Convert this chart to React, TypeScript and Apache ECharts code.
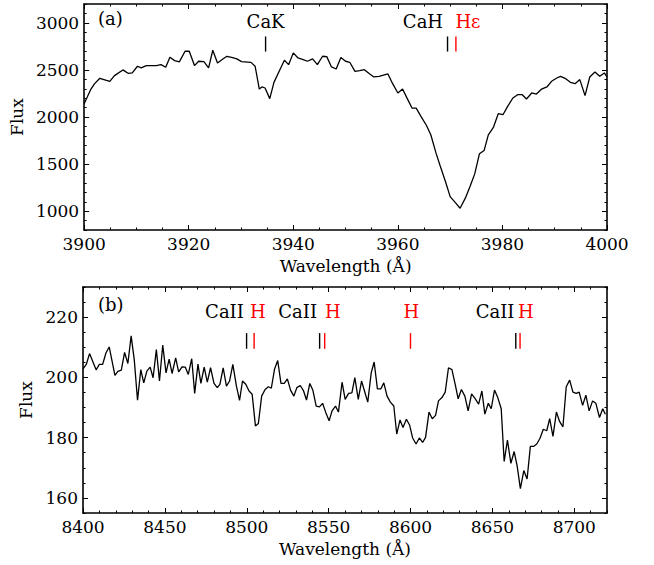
import React, { useEffect, useRef } from 'react';
import * as echarts from 'echarts';

// ---------- Panel (a) : Ca II K / H region ----------
const waveA = [
  3900.0, 3901.3, 3902.0, 3903.0, 3904.9, 3905.8, 3907.4, 3908.4, 3909.2, 3910.2,
  3910.9, 3911.9, 3913.8, 3914.7, 3915.6, 3916.4, 3917.3, 3918.2, 3919.3, 3920.1,
  3921.1, 3921.9, 3922.9, 3923.8, 3924.6, 3925.5, 3926.4, 3927.3, 3928.2, 3929.2,
  3930.1, 3931.9, 3932.7, 3933.5, 3934.0, 3934.6, 3935.5, 3936.3, 3937.3, 3938.3,
  3939.1, 3940.0, 3940.9, 3941.9, 3942.7, 3943.7, 3944.6, 3945.6, 3946.4, 3947.3,
  3948.2, 3949.1, 3950.0, 3950.8, 3951.8, 3952.7, 3953.6, 3954.5, 3955.4, 3956.4,
  3958.1, 3959.0, 3960.0, 3960.9, 3961.8, 3962.7, 3963.5, 3964.5, 3965.5, 3966.3,
  3967.3, 3968.1, 3969.1, 3970.0, 3971.0, 3971.9, 3972.9, 3973.8, 3974.7, 3975.6,
  3976.5, 3977.3, 3978.3, 3979.2, 3980.1, 3981.0, 3982.0, 3982.9, 3983.8, 3984.6,
  3985.6, 3986.5, 3987.5, 3988.5, 3989.4, 3990.4, 3991.1, 3992.1, 3993.0, 3993.9,
  3994.8, 3995.8, 3996.7, 3997.7, 3998.6, 3999.5, 4000.0,
];
const fluxA = [
  2141, 2297, 2354, 2411, 2379, 2439, 2500, 2464, 2468, 2539,
  2521, 2546, 2546, 2556, 2528, 2634, 2599, 2585, 2698, 2698,
  2546, 2592, 2588, 2521, 2709, 2574, 2610, 2645, 2634, 2617,
  2588, 2580, 2539, 2297, 2319, 2308, 2195, 2368, 2485, 2602,
  2556, 2681, 2627, 2610, 2592, 2617, 2556, 2645, 2641, 2532,
  2510, 2631, 2592, 2581, 2485, 2493, 2503, 2461, 2425, 2432,
  2457, 2354, 2255, 2297, 2195, 2095, 2095, 1999, 1907, 1811,
  1616, 1480, 1315, 1155, 1091, 1031, 1138, 1262, 1396, 1609,
  1645, 1811, 1893, 2035, 2024, 2113, 2202, 2237, 2237, 2191,
  2255, 2244, 2297, 2319, 2379, 2414, 2432, 2407, 2368, 2354,
  2397, 2227, 2425, 2478, 2432, 2468, 2425,
];

// ---------- Panel (b) : Ca II triplet region ----------
const waveB = [
  8400.0, 8402.0, 8404.0, 8408.0, 8410.0, 8412.0, 8414.0, 8416.0, 8419.5, 8421.3,
  8423.4, 8425.4, 8427.4, 8429.4, 8431.3, 8433.3, 8435.3, 8437.1, 8439.0, 8441.0,
  8442.8, 8444.8, 8446.7, 8448.7, 8450.7, 8452.6, 8454.4, 8456.6, 8458.4, 8460.5,
  8462.5, 8464.3, 8466.4, 8468.2, 8470.2, 8472.0, 8474.0, 8475.9, 8477.9, 8480.0,
  8482.0, 8483.6, 8485.6, 8487.6, 8489.5, 8491.5, 8493.7, 8495.6, 8497.4, 8499.4,
  8501.4, 8503.3, 8505.3, 8507.1, 8509.1, 8511.2, 8513.2, 8515.0, 8517.0, 8518.9,
  8520.9, 8522.9, 8524.8, 8526.8, 8528.8, 8530.6, 8532.7, 8534.7, 8536.5, 8538.5,
  8540.4, 8542.4, 8544.4, 8546.3, 8548.3, 8550.3, 8552.1, 8554.2, 8556.0, 8558.2,
  8560.1, 8562.2, 8564.2, 8566.0, 8568.1, 8570.1, 8571.9, 8573.9, 8576.0, 8577.8,
  8579.8, 8581.9, 8583.7, 8585.7, 8587.7, 8589.8, 8591.6, 8593.6, 8595.4, 8597.5,
  8599.5, 8601.3, 8603.4, 8605.4, 8607.4, 8609.2, 8611.3, 8613.3, 8615.3, 8617.1,
  8619.2, 8621.2, 8623.2, 8625.3, 8627.3, 8629.1, 8631.1, 8633.2, 8635.2, 8637.3,
  8639.6, 8641.6, 8643.6, 8645.4, 8647.5, 8649.3, 8651.3, 8653.3, 8655.4, 8657.2,
  8659.2, 8661.3, 8663.3, 8665.1, 8667.1, 8669.2, 8671.2, 8673.2, 8675.1, 8677.1,
  8679.1, 8681.1, 8683.2, 8685.0, 8687.0, 8689.1, 8691.1, 8693.1, 8695.1, 8697.2,
  8699.2, 8701.2, 8703.0, 8705.1, 8707.1, 8709.1, 8711.2, 8713.2, 8715.4, 8717.4,
  8719.0,
];
const fluxB = [
  202.8, 204.3, 207.9, 202.5, 204.3, 204.3, 208.1, 210.1, 200.7, 202.0,
  202.4, 208.3, 204.6, 213.8, 205.9, 192.4, 202.6, 198.2, 202.1, 203.4,
  199.9, 209.2, 198.8, 210.7, 201.5, 206.1, 201.3, 206.5, 201.8, 203.5,
  203.4, 201.0, 206.2, 194.7, 204.4, 198.0, 203.4, 198.4, 203.2, 198.0,
  196.6, 197.7, 203.2, 197.1, 198.8, 204.3, 197.1, 192.4, 198.8, 197.7,
  195.5, 194.4, 183.9, 184.7, 193.8, 196.0, 196.9, 196.4, 202.8, 205.6,
  198.0, 198.0, 199.5, 195.7, 193.8, 196.6, 197.3, 195.5, 192.5, 198.0,
  195.7, 190.5, 190.2, 191.4, 188.3, 185.6, 188.9, 190.5, 188.5, 198.4,
  192.7, 194.7, 194.9, 199.9, 192.7, 198.8, 195.5, 191.8, 201.5, 205.1,
  196.2, 196.2, 198.2, 193.8, 191.8, 190.5, 181.2, 185.9, 183.4, 186.1,
  184.1, 179.9, 177.9, 179.9, 178.4, 180.1, 188.5, 186.3, 187.4, 192.2,
  193.3, 195.1, 203.2, 202.6, 197.7, 192.9, 196.0, 193.8, 188.9, 194.5,
  192.9, 191.1, 195.5, 187.8, 191.4, 189.6, 195.8, 193.3, 189.6, 172.1,
  179.2, 171.5, 175.4, 170.7, 163.1, 169.1, 166.3, 177.1, 177.1, 177.9,
  179.8, 182.8, 182.3, 186.3, 180.4, 188.5, 185.3, 183.6, 196.9, 199.1,
  195.1, 194.7, 195.1, 190.7, 194.1, 188.9, 192.2, 191.4, 186.7, 189.6,
  187.8,
];

// ---------- Axes ----------
const xRangeA = [3900, 4000];
const yRangeA = [800, 3200];
const xTicksA = [3900, 3920, 3940, 3960, 3980, 4000];
const yTicksA = [1000, 1500, 2000, 2500, 3000];
const xMinorStepA = 5;
const yMinorStepA = 100;

const xRangeB = [8400, 8720];
const yRangeB = [155, 230];
const xTicksB = [8400, 8450, 8500, 8550, 8600, 8650, 8700];
const yTicksB = [160, 180, 200, 220];
const xMinorStepB = 10;
const yMinorStepB = 5;

// ---------- Line identifications ----------
const caMarksA = [3934.7, 3969.5];
const hMarksA = [3971.1];
const markSpanA = [2695, 2855];
const caTextA = ['CaK', 'CaH'];
const caTextPosA = [3934.7, 3964.8];
const hTextA = ['Hε'];
const hTextPosA = [3973.4];
const textLevelA = 3014;

const caMarksB = [8499.9, 8544.5, 8664.3];
const hMarksB = [8504.5, 8547.6, 8600.0, 8666.9];
const markSpanB = [209.5, 214.7];
const caTextB = ['CaII', 'CaII', 'CaII'];
const caTextPosB = [8486.4, 8531.1, 8651.6];
const hTextB = ['H', 'H', 'H', 'H'];
const hTextPosB = [8506.8, 8552.6, 8600.5, 8670.4];
const textLevelB = 221.9;

const FONT = 'DejaVu Serif';
const FS = 17;
const AFS = 18;

function steps(min: number, max: number, step: number) {
  const out: number[] = [];
  for (let v = Math.ceil(min / step) * step; v <= max + 1e-9; v += step) out.push(+v.toFixed(6));
  return out;
}

function axis(o: any) {
  return {
    type: 'value',
    gridIndex: o.grid,
    position: o.pos,
    min: o.range[0],
    max: o.range[1],
    splitLine: { show: false },
    axisLine: { show: !!o.line, onZero: false, lineStyle: { color: '#000', width: 1.6 } },
    axisTick: {
      show: true,
      inside: true,
      length: o.len,
      customValues: o.ticks,
      lineStyle: { color: '#000', width: 1 },
    },
    axisLabel: o.labels
      ? {
          show: true,
          customValues: o.labels,
          margin: o.margin,
          color: '#000',
          fontFamily: FONT,
          fontSize: FS,
          formatter: (v: number) => String(v),
        }
      : { show: false },
    name: o.name,
    nameLocation: 'middle',
    nameGap: o.nameGap,
    nameTextStyle: { color: '#000', fontFamily: FONT, fontSize: FS },
  };
}

function panelAxes(grid: number, xr: number[], yr: number[], xt: number[], yt: number[], xs: number, ys: number) {
  const xm = steps(xr[0], xr[1], xs);
  const ym = steps(yr[0], yr[1], ys);
  const xAxes = [
    axis({ grid, pos: 'bottom', range: xr, ticks: xt, len: 5, line: true, labels: xt, margin: 5, name: 'Wavelength (Å)', nameGap: 27 }),
    axis({ grid, pos: 'bottom', range: xr, ticks: xm, len: 2.5 }),
    axis({ grid, pos: 'top', range: xr, ticks: xt, len: 5, line: true }),
    axis({ grid, pos: 'top', range: xr, ticks: xm, len: 2.5 }),
  ];
  const yAxes = [
    axis({ grid, pos: 'left', range: yr, ticks: yt, len: 5, line: true, labels: yt, margin: 5, name: 'Flux', nameGap: 48 }),
    axis({ grid, pos: 'left', range: yr, ticks: ym, len: 2.5 }),
    axis({ grid, pos: 'right', range: yr, ticks: yt, len: 5, line: true }),
    axis({ grid, pos: 'right', range: yr, ticks: ym, len: 2.5 }),
  ];
  return { xAxes, yAxes };
}

function markSeries(xi: number, yi: number, xs: number[], span: number[], color: string) {
  return {
    type: 'custom',
    xAxisIndex: xi,
    yAxisIndex: yi,
    silent: true,
    clip: false,
    data: xs.map((x) => [x, span[0], span[1]]),
    renderItem: (_p: any, api: any) => {
      const a = api.coord([api.value(0), api.value(1)]);
      const b = api.coord([api.value(0), api.value(2)]);
      return {
        type: 'line',
        shape: { x1: a[0], y1: a[1], x2: b[0], y2: b[1] },
        style: { stroke: color, lineWidth: 1.4 },
      };
    },
  };
}

function textSeries(xi: number, yi: number, xs: number[], texts: string[], level: number, color: string) {
  return {
    type: 'custom',
    xAxisIndex: xi,
    yAxisIndex: yi,
    silent: true,
    clip: false,
    data: xs.map((x) => [x, level]),
    renderItem: (p: any, api: any) => {
      const c = api.coord([api.value(0), api.value(1)]);
      return {
        type: 'text',
        x: c[0],
        y: c[1],
        style: {
          text: texts[p.dataIndex],
          fill: color,
          fontFamily: FONT,
          fontSize: AFS,
          align: 'center',
          verticalAlign: 'middle',
        },
      };
    },
  };
}

export default function App() {
  const ref = useRef<HTMLDivElement>(null);
  useEffect(() => {
    if (!ref.current) return;
    const chart = echarts.init(ref.current, null, { renderer: 'svg' });
    const a = panelAxes(0, xRangeA, yRangeA, xTicksA, yTicksA, xMinorStepA, yMinorStepA);
    const b = panelAxes(1, xRangeB, yRangeB, xTicksB, yTicksB, xMinorStepB, yMinorStepB);
    const option: any = {
      animation: false,
      backgroundColor: '#fff',
      grid: [
        { left: 83, top: 4, width: 524, height: 226 },
        { left: 83, top: 287, width: 524, height: 226 },
      ],
      xAxis: [...a.xAxes, ...b.xAxes],
      yAxis: [...a.yAxes, ...b.yAxes],
      graphic: [
        { type: 'text', left: 98, top: 9, style: { text: '(a)', fill: '#000', fontFamily: FONT, fontSize: AFS } },
        { type: 'text', left: 98, top: 295, style: { text: '(b)', fill: '#000', fontFamily: FONT, fontSize: AFS } },
      ],
      series: [
        {
          type: 'line',
          xAxisIndex: 0,
          yAxisIndex: 0,
          data: waveA.map((w, i) => [w, fluxA[i]]),
          showSymbol: false,
          symbol: 'none',
          lineStyle: { color: '#000', width: 1.3 },
          silent: true,
        },
        {
          type: 'line',
          xAxisIndex: 4,
          yAxisIndex: 4,
          data: waveB.map((w, i) => [w, fluxB[i]]),
          showSymbol: false,
          symbol: 'none',
          lineStyle: { color: '#000', width: 1.3 },
          silent: true,
        },
        markSeries(0, 0, caMarksA, markSpanA, '#000'),
        markSeries(0, 0, hMarksA, markSpanA, '#ff0000'),
        textSeries(0, 0, caTextPosA, caTextA, textLevelA, '#000'),
        textSeries(0, 0, hTextPosA, hTextA, textLevelA, '#ff0000'),
        markSeries(4, 4, caMarksB, markSpanB, '#000'),
        markSeries(4, 4, hMarksB, markSpanB, '#ff0000'),
        textSeries(4, 4, caTextPosB, caTextB, textLevelB, '#000'),
        textSeries(4, 4, hTextPosB, hTextB, textLevelB, '#ff0000'),
      ],
    };
    chart.setOption(option);
    return () => chart.dispose();
  }, []);
  return <div ref={ref} style={{ position: 'fixed', left: 0, top: 0, width: 654, height: 565 }} />;
}
